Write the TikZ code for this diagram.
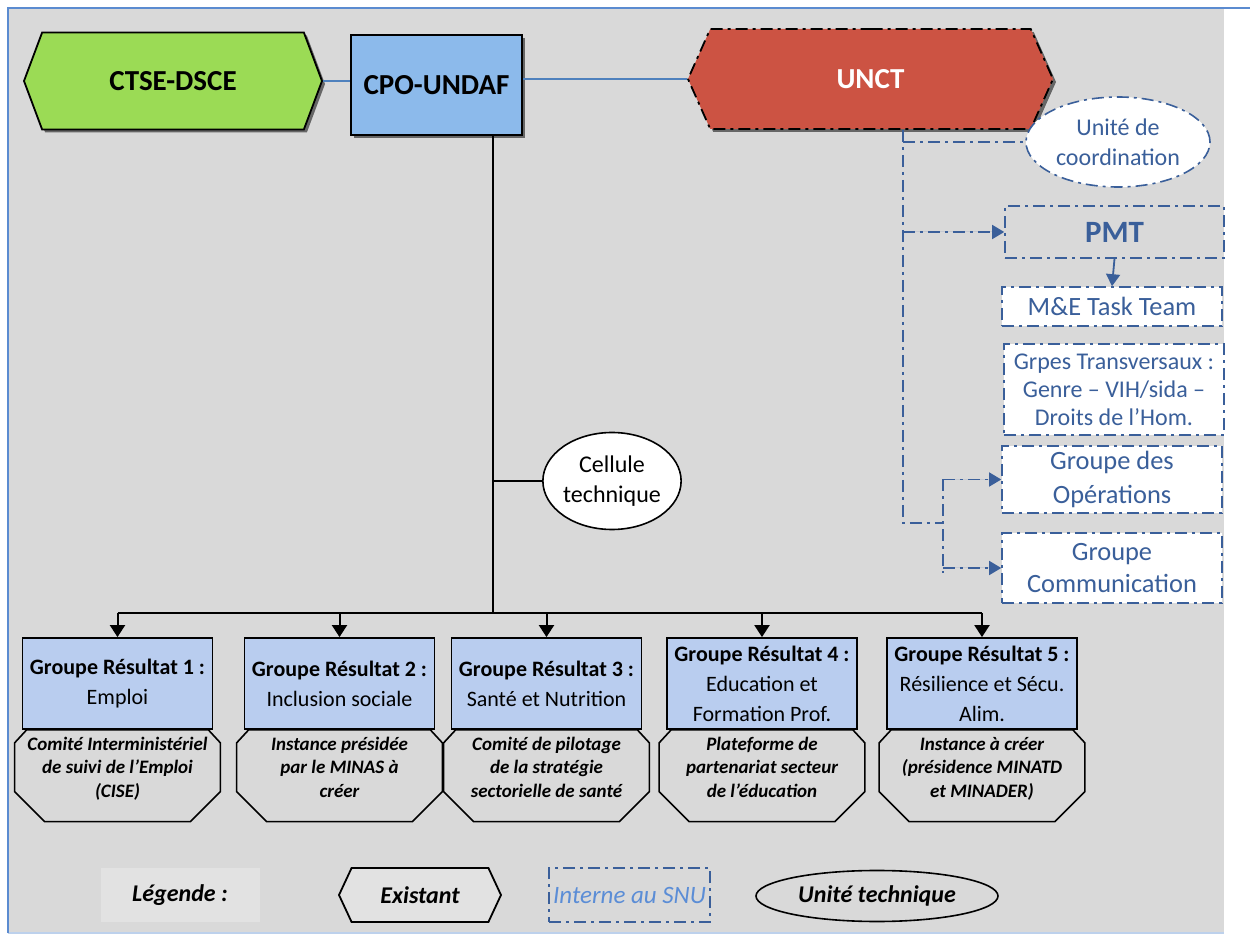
\documentclass[tikz,border=0pt]{standalone}
\usepackage{fontspec}
\setmainfont{Carlito}
\usepackage{tikz}
\usetikzlibrary{shapes.symbols,shapes.geometric,shadows,arrows.meta}

\definecolor{fond}{HTML}{D9D9D9}
\definecolor{fondclair}{HTML}{E2E2E2}
\definecolor{cadre}{HTML}{5B8BD0}
\definecolor{vert}{HTML}{9BDB55}
\definecolor{bleucpo}{HTML}{8CBAEB}
\definecolor{rouge}{HTML}{CC5343}
\definecolor{bleugr}{HTML}{B9CDEF}
\definecolor{snubleu}{HTML}{3A5F9A}
\definecolor{lien}{HTML}{4F81BD}
\definecolor{snuclair}{HTML}{5B8DD6}

\tikzset{
  ombre/.style={drop shadow={shadow xshift=1.5pt,shadow yshift=-1.5pt,fill=black!60,opacity=1}},
  hexa/.style={signal,signal to=west and east,draw=black,line width=0.9pt,inner sep=0pt},
  tirets/.style={dash pattern=on 6pt off 2.5pt on 1.5pt off 2.5pt},
  snuligne/.style={draw=snubleu,line width=0.8pt,tirets},
  snufleche/.style={snuligne,-{Triangle[length=6pt,width=7pt]},fill=snubleu},
  snubox/.style={snuligne,rectangle,fill=white,text=snubleu,minimum width=110pt,align=center,inner sep=0pt},
  groupe/.style={rectangle,draw=black,line width=0.9pt,fill=bleugr,minimum width=95pt,minimum height=45.5pt,align=center,font=\fontsize{11}{15}\selectfont,inner sep=0pt},
  instance/.style={rectangle,anchor=north,minimum width=102.5pt,minimum height=45.5pt,text depth=8.5pt,align=center,font=\fontsize{9.5}{11.8}\selectfont\bfseries\itshape,inner sep=0pt},
  octo/.style={draw=black,line width=0.8pt},
  unite/.style={ellipse,draw=black,line width=0.8pt,fill=white,align=center,inner sep=0pt},
  branche/.style={draw=black,line width=1pt},
  fleche/.style={branche,-{Triangle[length=6pt,width=7.5pt]}},
  legende/.style={font=\fontsize{12}{14}\selectfont\bfseries\itshape,minimum height=27pt,inner sep=0pt}
}

\begin{document}
\begin{tikzpicture}[x=0.5pt,y=-0.5pt]
\useasboundingbox (0,0) rectangle (1250,936);
\fill[white] (0,0) rectangle (1250,936);
\fill[fond] (8,8) rectangle (1224,933);
\draw[cadre!40,line width=0.8pt] (8,933) -- (1224,933);
\draw[cadre,line width=1pt] (8,933) -- (8,8) -- (1250,8);

\node[hexa,fill=vert,ombre,minimum width=149pt,minimum height=48.5pt,signal pointer angle=139,font=\fontsize{14.5}{16}\selectfont\bfseries] (ctse) at (173,81) {CTSE-DSCE};
\node[rectangle,draw=black,line width=1pt,fill=bleucpo,ombre,minimum width=85.5pt,minimum height=50pt,font=\fontsize{14.5}{16}\selectfont\bfseries] (cpo) at (436.5,85) {CPO-UNDAF};
\node[hexa,fill=rouge,tirets,ombre,minimum width=182.5pt,minimum height=50pt,signal pointer angle=132,text=white,font=\fontsize{14.5}{16}\selectfont\bfseries] (unct) at (870.5,79) {UNCT};
\node[unite,snuligne,minimum width=92pt,minimum height=45pt,text=snubleu,font=\fontsize{12}{15}\selectfont] (coord) at (1118,142) {Unité de\\coordination};

\draw[lien,line width=1pt] (ctse.east) -- (ctse.east -| cpo.west);
\draw[lien,line width=1pt] (unct.west -| cpo.east) -- (unct.west);

\node[snubox,fill=fond,minimum width=109.5pt,minimum height=26pt,font=\fontsize{15.5}{17}\selectfont\bfseries] (pmt) at (1114.5,232) {PMT};
\node[snubox,minimum height=19.5pt,font=\fontsize{13.2}{15}\selectfont] (metask) at (1112,306.5) {M\&E Task Team};
\node[snubox,minimum height=45.5pt,font=\fontsize{12}{14}\selectfont] (grpes) at (1114,389.5) {Grpes Transversaux :\\Genre – VIH/sida –\\Droits de l’Hom.};
\node[snubox,minimum height=33.5pt,font=\fontsize{13.2}{17}\selectfont] (ops) at (1112,479.5) {Groupe des\\Opérations};
\node[snubox,minimum height=35pt,font=\fontsize{13.2}{16}\selectfont] (comm) at (1112,568) {Groupe\\Communication};

\coordinate (tk) at (903,523);
\coordinate (br) at (943,523);
\draw[snuligne] (unct.south -| tk) -- (tk) -- (br);
\draw[snuligne] (tk |- coord.west) -- (coord.west);
\draw[snufleche] (tk |- pmt.west) -- (pmt.west);
\draw[snuligne] (br |- ops.west) -- ([yshift=-2.5pt]br |- comm.west);
\draw[snufleche] (br |- ops.west) -- (ops.west);
\draw[snufleche] (br |- comm.west) -- (comm.west);
\draw[snubleu,line width=0.9pt,-{Triangle[length=6pt,width=7pt]}] (pmt.south) -- (metask.north);

\node[unite,minimum width=63.5pt,minimum height=48.5pt,font=\fontsize{12}{15}\selectfont] (cellule) at (612,481) {Cellule\\technique};

\node[groupe] (g1) at (117.5,683.5) {\textbf{Groupe Résultat 1 :}\\Emploi};
\node[groupe] (g2) at (339.5,683.5) {\textbf{Groupe Résultat 2 :}\\Inclusion sociale};
\node[groupe] (g3) at (546.5,683.5) {\textbf{Groupe Résultat 3 :}\\Santé et Nutrition};
\node[groupe] (g4) at (762,683.5) {\textbf{Groupe Résultat 4 :}\\Education et\\Formation Prof.};
\node[groupe] (g5) at (982,683.5) {\textbf{Groupe Résultat 5 :}\\Résilience et Sécu.\\Alim.};

\node[instance] (o1) at (g1.south) {Comité Interministériel\\de suivi de l’Emploi\\(CISE)};
\node[instance] (o2) at (g2.south) {Instance présidée\\par le MINAS à\\créer};
\node[instance] (o3) at (g3.south) {Comité de pilotage\\de la stratégie\\sectorielle de santé};
\node[instance] (o4) at (g4.south) {Plateforme de\\partenariat secteur\\de l’éducation};
\node[instance] (o5) at (g5.south) {Instance à créer\\(présidence MINATD\\et MINADER)};
\foreach \n in {o1,o2,o3,o4,o5}
  \draw[octo] ([xshift=6pt]\n.north west) -- ([xshift=-6pt]\n.north east) -- ([yshift=-6.5pt]\n.north east)
    -- ([yshift=15pt]\n.south east) -- ([xshift=-15pt]\n.south east) -- ([xshift=15pt]\n.south west)
    -- ([yshift=15pt]\n.south west) -- ([yshift=-6.5pt]\n.north west) -- cycle;

\coordinate (bus) at (493,613);
\draw[branche] (cpo.south -| bus) -- (bus);
\draw[branche] (cellule.west -| bus) -- (cellule.west);
\draw[branche] (g1.north |- bus) -- (g5.north |- bus);
\draw[fleche] (g1.north |- bus) -- (g1.north);
\draw[fleche] (g2.north |- bus) -- (g2.north);
\draw[fleche] (g3.north |- bus) -- (g3.north);
\draw[fleche] (g4.north |- bus) -- (g4.north);
\draw[fleche] (g5.north |- bus) -- (g5.north);

\node[legende,fill=fondclair,minimum width=79.5pt] (leg) at (180,895) {Légende :};
\node[hexa,legende,fill=fondclair,minimum width=81pt,signal pointer angle=130] (lexist) at (420,895) {Existant};
\node[legende,snuligne,rectangle,minimum width=80.5pt,text=snuclair,font=\fontsize{12.5}{14}\selectfont\itshape] (lsnu) at (629.5,895) {Interne au SNU};
\node[unite,fill=none,legende,minimum width=121pt,minimum height=25.5pt] (lunite) at (877,896) {Unité technique};
\end{tikzpicture}
\end{document}
